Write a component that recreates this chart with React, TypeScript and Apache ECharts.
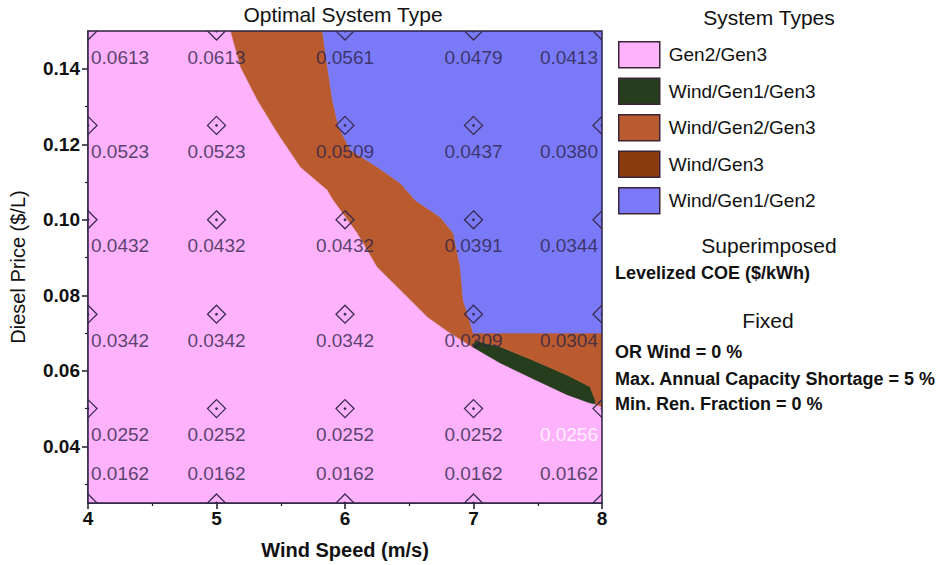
import React, { useEffect, useRef } from "react";
import * as echarts from "echarts";

// ---- data ----
const windSpeeds = [4, 5, 6, 7, 8];
const dieselPrices = [0.025, 0.05, 0.075, 0.1, 0.125, 0.15];
// Levelized COE ($/kWh); rows follow dieselPrices, columns follow windSpeeds
const coeRows = [
  [0.0162, 0.0162, 0.0162, 0.0162, 0.0162],
  [0.0252, 0.0252, 0.0252, 0.0252, 0.0256],
  [0.0342, 0.0342, 0.0342, 0.0309, 0.0304],
  [0.0432, 0.0432, 0.0432, 0.0391, 0.0344],
  [0.0523, 0.0523, 0.0509, 0.0437, 0.038],
  [0.0613, 0.0613, 0.0561, 0.0479, 0.0413],
];
const yTickValues = [0.04, 0.06, 0.08, 0.1, 0.12, 0.14];
const yMinorTickValues = [0.03, 0.05, 0.07, 0.09, 0.11, 0.13];

const systemTypes = ["Gen2/Gen3", "Wind/Gen1/Gen3", "Wind/Gen2/Gen3", "Wind/Gen3", "Wind/Gen1/Gen2"];
const systemColors = ["#ffb2fc", "#263d1e", "#b95b2f", "#8a3c10", "#7a7af8"];

// region edges: [wind speed, diesel price]
const pinkBrownEdge = [
  [5.111, 0.15], [5.188, 0.1405], [5.32, 0.1317], [5.476, 0.123], [5.654, 0.114],
  [5.864, 0.1079], [5.911, 0.1052], [6.097, 0.0965], [6.252, 0.0875], [6.509, 0.0788],
  [6.641, 0.0743], [6.819, 0.07], [6.99, 0.0664],
];
const brownBlueEdge = [
  [5.825, 0.15], [5.864, 0.1405], [5.903, 0.1317], [5.95, 0.1246], [6.043, 0.1185],
  [6.252, 0.114], [6.431, 0.1097], [6.548, 0.1052], [6.742, 0.1007], [6.843, 0.0965],
  [6.897, 0.0875], [6.92, 0.0788], [6.975, 0.0727], [6.998, 0.07], [8, 0.07],
];
const greenTopEdge = [
  [6.99, 0.0664], [7.01, 0.068], [7.208, 0.0664], [7.464, 0.0628], [7.728, 0.0589],
  [7.907, 0.0558], [7.95, 0.0521],
];
const greenBottomEdge = [
  [6.99, 0.0664], [7.208, 0.0621], [7.464, 0.0579], [7.728, 0.0537], [7.907, 0.0515],
  [7.95, 0.0512], [8, 0.0504],
];

const FONT = '"Liberation Sans", Arial, sans-serif';
const INK = "#2d2348";
const MARK = "#3a2a50";

const pinkRegion = [[4, 0.025], [4, 0.15], ...pinkBrownEdge, ...greenBottomEdge.slice(1), [8, 0.025]];
const brownRegion = [
  ...pinkBrownEdge,
  ...greenTopEdge.slice(1),
  ...greenBottomEdge.slice(5),
  ...brownBlueEdge.slice().reverse(),
];
const blueRegion = [...brownBlueEdge, [8, 0.15]];
const greenRegion = [...greenTopEdge, ...greenBottomEdge.slice(0, 6).reverse()];

const regionByType: Record<string, number[][] | null> = {
  "Gen2/Gen3": pinkRegion,
  "Wind/Gen1/Gen3": greenRegion,
  "Wind/Gen2/Gen3": brownRegion,
  "Wind/Gen3": null,
  "Wind/Gen1/Gen2": blueRegion,
};

function buildOption() {
  const regionSeries = systemTypes.map((name, i) => {
    const pts = regionByType[name];
    return {
      type: "custom",
      name,
      coordinateSystem: "cartesian2d",
      clip: true,
      silent: true,
      z: 1,
      itemStyle: { color: systemColors[i] },
      encode: { x: 0, y: 1 },
      data: pts ? [[pts[0][0], pts[0][1]]] : [],
      renderItem: (_params: any, api: any) => ({
        type: "polygon",
        shape: { points: (pts || []).map((p) => api.coord(p)) },
        style: { fill: systemColors[i], stroke: systemColors[i], lineWidth: 0.6 },
      }),
    };
  });

  const gridPts: number[][] = [];
  const labelData: any[] = [];
  dieselPrices.forEach((p, r) => {
    windSpeeds.forEach((w, c) => {
      gridPts.push([w, p]);
      const dy = r === 0 ? -30 : 26;
      let align = "center";
      let dx = 0;
      if (c === 0) { align = "left"; dx = 3; }
      if (c === windSpeeds.length - 1) { align = "right"; dx = -4; }
      const light = w === 8 && p === 0.05;
      labelData.push({
        value: [w, p, coeRows[r][c]],
        label: { align, offset: [dx, dy], color: light ? "#ffffff" : INK },
      });
    });
  });

  return {
    animation: false,
    backgroundColor: "#ffffff",
    grid: { left: 87, top: 31, width: 515, height: 472, show: true, borderColor: "#2a2040", borderWidth: 1.5, backgroundColor: "transparent", z: 3 },
    xAxis: {
      type: "value",
      min: 4,
      max: 8,
      interval: 1,
      name: "Wind Speed (m/s)",
      nameLocation: "middle",
      nameGap: 37,
      nameTextStyle: { fontFamily: FONT, fontSize: 20, fontWeight: "bold", color: "#111" },
      axisLine: { show: true, onZero: false, lineStyle: { color: "#1d1a2a", width: 1.5 } },
      axisTick: { show: true, inside: false, length: 6, lineStyle: { color: "#1d1a2a", width: 1.5 } },
      minorTick: { show: true, splitNumber: 2, length: 3, lineStyle: { color: "#1d1a2a", width: 1.2 } },
      axisLabel: { fontFamily: FONT, fontSize: 19, fontWeight: "bold", color: "#111", margin: 6 },
      splitLine: { show: false },
    },
    yAxis: [
      {
        type: "value",
        min: 0.025,
        max: 0.15,
        name: "Diesel Price ($/L)",
        nameLocation: "middle",
        nameGap: 60,
        nameRotate: 90,
        nameTextStyle: { fontFamily: FONT, fontSize: 20, color: "#111" },
        axisLine: { show: true, onZero: false, lineStyle: { color: "#1d1a2a", width: 1.5 } },
        axisTick: { show: true, length: 6, customValues: yTickValues, lineStyle: { color: "#1d1a2a", width: 1.5 } },
        axisLabel: {
          customValues: yTickValues,
          formatter: (v: number) => v.toFixed(2),
          fontFamily: FONT, fontSize: 19, fontWeight: "bold", color: "#111", margin: 8,
        },
        splitLine: { show: false },
      },
      {
        type: "value",
        min: 0.025,
        max: 0.15,
        position: "left",
        axisLine: { show: false },
        axisTick: { show: true, length: 3, customValues: yMinorTickValues, lineStyle: { color: "#1d1a2a", width: 1.2 } },
        axisLabel: { show: false },
        splitLine: { show: false },
      },
    ],
    legend: {
      data: systemTypes.map((n) => ({ name: n, icon: "rect" })),
      orient: "vertical",
      left: 618,
      top: 41,
      padding: 0,
      itemWidth: 41,
      itemHeight: 26,
      itemGap: 9,
      selectedMode: false,
      itemStyle: { borderColor: "#3b2438", borderWidth: 1.5 },
      textStyle: { fontFamily: FONT, fontSize: 19, color: "#111", padding: [0, 0, 0, 4] },
    },
    graphic: [
      { type: "text", x: 343, y: 14, style: { text: "Optimal System Type", font: `21px ${FONT}`, fill: "#111", align: "center", verticalAlign: "middle" } },
      { type: "text", x: 769, y: 17, style: { text: "System Types", font: `21px ${FONT}`, fill: "#111", align: "center", verticalAlign: "middle" } },
      { type: "text", x: 769, y: 245, style: { text: "Superimposed", font: `21px ${FONT}`, fill: "#111", align: "center", verticalAlign: "middle" } },
      { type: "text", x: 615, y: 273, style: { text: "Levelized COE ($/kWh)", font: `bold 18px ${FONT}`, fill: "#111", align: "left", verticalAlign: "middle" } },
      { type: "text", x: 768, y: 320, style: { text: "Fixed", font: `21px ${FONT}`, fill: "#111", align: "center", verticalAlign: "middle" } },
      { type: "text", x: 615, y: 352, style: { text: "OR Wind = 0 %", font: `bold 18px ${FONT}`, fill: "#111", align: "left", verticalAlign: "middle" } },
      { type: "text", x: 615, y: 379, style: { text: "Max. Annual Capacity Shortage = 5 %", font: `bold 18px ${FONT}`, fill: "#111", align: "left", verticalAlign: "middle" } },
      { type: "text", x: 615, y: 404, style: { text: "Min. Ren. Fraction = 0 %", font: `bold 18px ${FONT}`, fill: "#111", align: "left", verticalAlign: "middle" } },
    ],
    series: [
      ...regionSeries,
      {
        type: "custom",
        name: "grid-diamonds",
        coordinateSystem: "cartesian2d",
        clip: true,
        silent: true,
        z: 4,
        encode: { x: 0, y: 1 },
        data: gridPts,
        renderItem: (_params: any, api: any) => {
          const c = api.coord([api.value(0), api.value(1)]);
          const h = 9;
          return {
            type: "group",
            children: [
              {
                type: "polygon",
                shape: { points: [[c[0], c[1] - h], [c[0] + h, c[1]], [c[0], c[1] + h], [c[0] - h, c[1]]] },
                style: { fill: "none", stroke: MARK, lineWidth: 1.3 },
              },
              { type: "circle", shape: { cx: c[0], cy: c[1], r: 1.4 }, style: { fill: MARK } },
            ],
          };
        },
      },
      {
        type: "scatter",
        name: "coe-labels",
        data: labelData,
        symbolSize: 0,
        clip: false,
        silent: true,
        z: 5,
        label: {
          show: true,
          position: "inside",
          verticalAlign: "middle",
          fontFamily: FONT,
          fontSize: 19,
          color: INK,
          formatter: (p: any) => p.value[2].toFixed(4),
        },
      },
    ],
  };
}

export default function App() {
  const ref = useRef<HTMLDivElement>(null);
  useEffect(() => {
    if (!ref.current) return;
    const chart = echarts.init(ref.current, undefined, { renderer: "svg" });
    chart.setOption(buildOption() as any);
    return () => chart.dispose();
  }, []);
  return (
    <div
      ref={ref}
      style={{ position: "fixed", left: 0, top: 0, width: 939, height: 565, background: "#ffffff" }}
    />
  );
}
